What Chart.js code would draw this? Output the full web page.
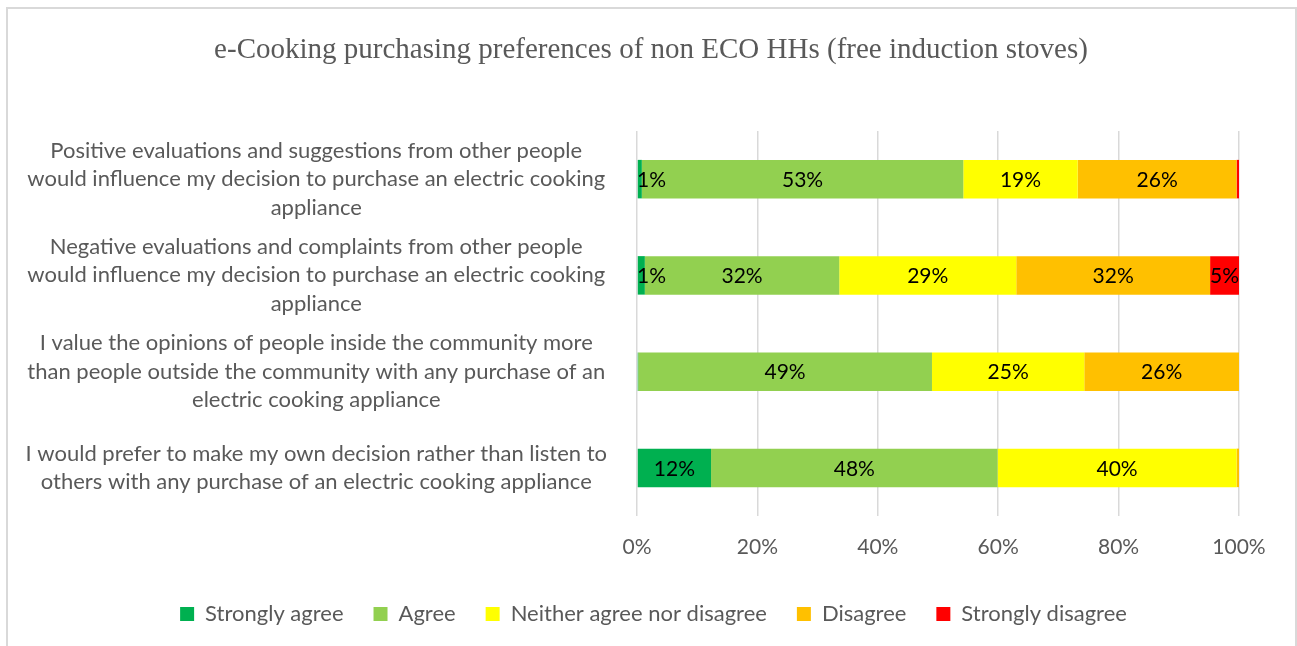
<!DOCTYPE html>
<html>
<head>
<meta charset="utf-8">
<title>e-Cooking purchasing preferences</title>
<script src="https://cdn.jsdelivr.net/npm/chart.js@4.4.1/dist/chart.umd.min.js"></script>
<style>
    html, body { margin: 0; padding: 0; background: #ffffff; }
    .frame {
        position: absolute;
        left: 6px; top: 7px;
        width: 1291px; height: 660px;
        border: 2px solid #d9d9d9;
        box-sizing: border-box;
    }
    .wrap { position: absolute; left: 0; top: 0; width: 1297px; height: 646px; }
</style>
</head>
<body>
<div class="frame"></div>
<div class="wrap"><canvas id="chart" width="1297" height="646"></canvas></div>
<script>
const chartTitle = 'e-Cooking purchasing preferences of non ECO HHs (free induction stoves)';

// Survey statements (multi-line labels)
const statements = [
    ['Positive evaluations and suggestions from other people', 'would influence my decision to purchase an electric cooking', 'appliance'],
    ['Negative evaluations and complaints from other people', 'would influence my decision to purchase an electric cooking', 'appliance'],
    ['I value the opinions of people inside the community more', 'than people outside the community with any purchase of an', 'electric cooking appliance'],
    ['I would prefer to make my own decision rather than listen to', 'others with any purchase of an electric cooking appliance']
];

// Share of responses (%) per statement
const stronglyAgree    = [0.8, 1.3, 0.2, 12.3];
const agree            = [53.4, 32.3, 48.8, 47.6];
const neither          = [19.0, 29.4, 25.3, 39.7];
const disagree         = [26.4, 32.2, 25.7, 0.4];
const stronglyDisagree = [0.4, 4.8, 0.0, 0.0];

const xTicks = [0, 20, 40, 60, 80, 100];

const seriesNames  = ['Strongly agree', 'Agree', 'Neither agree nor disagree', 'Disagree', 'Strongly disagree'];
const seriesValues = [stronglyAgree, agree, neither, disagree, stronglyDisagree];
const seriesColors = ['#00b050', '#92d050', '#ffff00', '#ffc000', '#ff0000'];

const labelFont = 'Lato, "Liberation Sans", sans-serif';

// Title drawn across the whole canvas, above the plot
const titleText = {
    id: 'titleText',
    afterDraw(chart) {
        const ctx = chart.ctx;
        ctx.save();
        ctx.font = '29px "Liberation Serif", "DejaVu Serif", serif';
        ctx.fillStyle = '#595959';
        ctx.textAlign = 'center';
        ctx.textBaseline = 'middle';
        ctx.fillText(chartTitle, 651, 50);
        ctx.restore();
    }
};

// Draw the rounded percentage in the middle of each segment, kept inside the plot
const segmentLabels = {
    id: 'segmentLabels',
    afterDatasetsDraw(chart) {
        const ctx = chart.ctx;
        const area = chart.chartArea;
        ctx.save();
        ctx.font = '21px ' + labelFont;
        ctx.fillStyle = '#000000';
        ctx.textBaseline = 'middle';
        ctx.textAlign = 'left';
        chart.data.datasets.forEach((ds, di) => {
            chart.getDatasetMeta(di).data.forEach((bar, i) => {
                const v = Math.round(ds.data[i]);
                if (v < 1) return;
                const text = v + '%';
                const w = ctx.measureText(text).width;
                let x = (bar.base + bar.x) / 2 - w / 2;
                x = Math.max(area.left, Math.min(area.right - w, x));
                ctx.fillText(text, x, bar.y + 1);
            });
        });
        ctx.restore();
    }
};

new Chart(document.getElementById('chart').getContext('2d'), {
    type: 'bar',
    data: {
        labels: statements,
        datasets: seriesNames.map((name, i) => ({
            label: name,
            data: seriesValues[i],
            backgroundColor: seriesColors[i],
            borderWidth: 0,
            categoryPercentage: 1,
            barPercentage: 0.4
        }))
    },
    options: {
        indexAxis: 'y',
        responsive: false,
        animation: false,
        layout: { padding: { left: 10, right: 0, top: 131, bottom: 11 } },
        plugins: {
            title: { display: false },
            legend: {
                position: 'bottom',
                labels: {
                    color: '#595959',
                    font: { family: labelFont, size: 22 },
                    boxWidth: 14,
                    boxHeight: 14,
                    padding: 30
                }
            },
            tooltip: { enabled: false }
        },
        scales: {
            x: {
                stacked: true,
                min: 0,
                max: 100,
                afterBuildTicks(scale) {
                    scale.ticks = xTicks.map(v => ({ value: v }));
                },
                afterFit(scale) { scale.height = 57; },
                border: { display: false },
                grid: { color: '#d9d9d9', lineWidth: 1.5, drawTicks: false },
                ticks: {
                    color: '#595959',
                    font: { family: labelFont, size: 21 },
                    padding: 19,
                    callback: v => v + '%'
                }
            },
            y: {
                stacked: true,
                afterFit(scale) { scale.width = 627; },
                border: { display: false },
                grid: { display: false },
                ticks: {
                    color: '#595959',
                    font: { family: labelFont, size: 22, lineHeight: 1.3 },
                    crossAlign: 'center',
                    padding: 22
                }
            },
            // empty margin to the right of the plot
            yRight: {
                type: 'category',
                position: 'right',
                afterFit(scale) { scale.width = 58; },
                border: { display: false },
                grid: { display: false },
                ticks: { display: false }
            }
        }
    },
    plugins: [segmentLabels, titleText]
});
</script>
</body>
</html>
